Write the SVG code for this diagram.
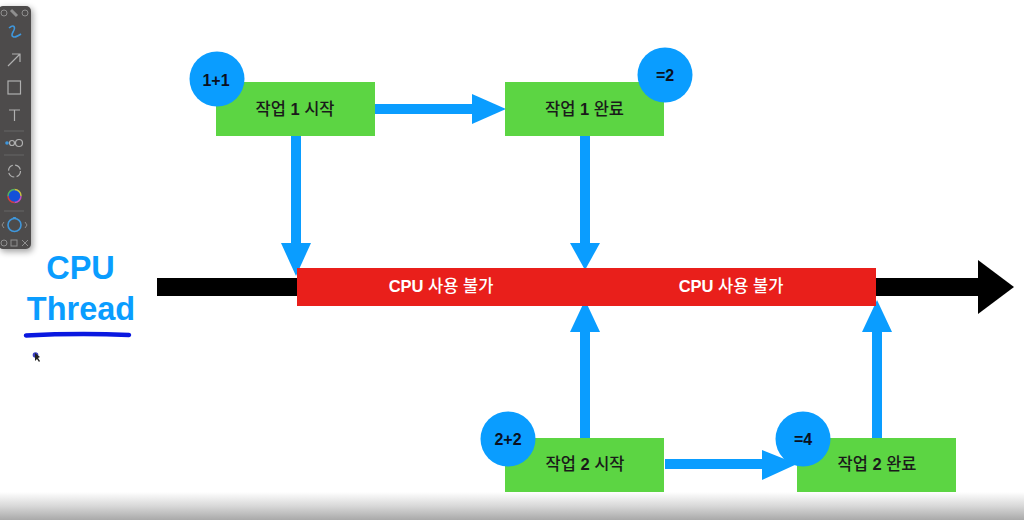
<svg xmlns="http://www.w3.org/2000/svg" width="1024" height="520" viewBox="0 0 1024 520">
<style>
.task{fill:#5cd543}
.bub{fill:#0a9dff}
.lbl{font:500 16.500px "Liberation Sans","Noto Sans CJK KR",sans-serif;fill:#1a1a1a;text-anchor:middle}
.num{font:700 16px "Liberation Sans",sans-serif;fill:#0a1020;text-anchor:middle}
.red{font:500 16.500px "Liberation Sans","Noto Sans CJK KR",sans-serif;fill:#fff;text-anchor:middle}
.b{font-weight:700}
.big{font:700 32.500px "Liberation Sans",sans-serif;fill:#0a9dff;text-anchor:middle}
.ar{fill:#0a9dff}
.tool{fill:none;stroke:#b0b0b0;stroke-width:1.200}
.tool2{fill:none;stroke:#8f8f8f;stroke-width:1}
</style>
<defs>
<linearGradient id="fade" x1="0" y1="0" x2="0" y2="1"><stop offset="0" stop-color="#fff"/><stop offset="0.5" stop-color="#d8d8d8"/><stop offset="1" stop-color="#a9a9a9"/></linearGradient>
<filter id="sh" x="-40%" y="-10%" width="180%" height="120%"><feGaussianBlur stdDeviation="3"/></filter>
</defs>
<rect width="1024" height="520" fill="#fff"/>
<rect y="492" width="1024" height="28" fill="url(#fade)"/>

<g id="toolbar">
<rect x="0" y="8" width="33" height="244" rx="5" fill="#000" opacity=".35" filter="url(#sh)"/>
<rect x="-2" y="6" width="33" height="243" rx="5" fill="#4d4b4b"/>
<circle cx="4" cy="13" r="3" class="tool2"/><path d="M11 10l6 6" stroke="#8f8f8f" stroke-width="3"/><circle cx="25" cy="13" r="3" class="tool2"/>
<path d="M9 28c5-4 7-1 4 4s1 7 8 2" fill="none" stroke="#3f97dc" stroke-width="1.600"/>
<path d="M8 66L20 54M12 54h8v8" class="tool"/>
<rect x="8" y="81" width="12.500" height="13" class="tool"/>
<path d="M9 110h11M14.500 110v11" class="tool"/>
<path d="M4 131h20M4 155h20M4 211h20" stroke="#666" stroke-width="1"/>
<circle cx="7" cy="143" r="1.800" fill="#3f97dc"/><circle cx="12" cy="143" r="2.500" class="tool"/><circle cx="19" cy="143" r="3.500" class="tool"/>
<circle cx="14.500" cy="171" r="6" class="tool" stroke-dasharray="7 2.400"/>
<circle cx="14.500" cy="196" r="6.500" fill="#1450d8"/>
<path d="M14.500 189.500a6.500 6.500 0 0 1 6.500 6.500" fill="none" stroke="#c8c040" stroke-width="1.500"/>
<path d="M21 196a6.500 6.500 0 0 1-6.500 6.500" fill="none" stroke="#c04fc0" stroke-width="1.500"/>
<path d="M14.500 202.500a6.500 6.500 0 0 1-6.500-6.500" fill="none" stroke="#d04040" stroke-width="1.500"/>
<path d="M8 196a6.500 6.500 0 0 1 6.500-6.500" fill="none" stroke="#50b060" stroke-width="1.500"/>
<circle cx="14.500" cy="225" r="6.500" fill="none" stroke="#3f97dc" stroke-width="1.600"/>
<path d="M12.500 217h4l-2 2z" fill="#3f97dc"/>
<path d="M4 222l-2 3 2 3M25 222l2 3-2 3" class="tool2"/>
<circle cx="4" cy="243" r="3" class="tool2"/><rect x="11" y="240" width="6" height="6" class="tool2"/><path d="M22 240l6 6M28 240l-6 6" class="tool2"/>
</g>

<g id="connectors">
<rect x="157" y="278" width="140" height="18" fill="#000"/>
<rect x="875" y="278" width="110" height="18" fill="#000"/>
<polygon points="978,260 1014,287 978,314" fill="#000"/>
<rect x="375" y="104" width="98" height="10" class="ar"/><polygon points="472,94 506,109 472,124" class="ar"/>
<rect x="665" y="459" width="98" height="10" class="ar"/><polygon points="762,450 797,464 762,480" class="ar"/>
<rect x="291" y="136" width="10" height="108" class="ar"/><polygon points="281,243 311,243 296,276" class="ar"/>
<rect x="580" y="136" width="10" height="108" class="ar"/><polygon points="570,243 600,243 585,270" class="ar"/>
<rect x="580" y="331" width="10" height="107" class="ar"/><polygon points="570,332 600,332 585,300" class="ar"/>
<rect x="872" y="331" width="10" height="107" class="ar"/><polygon points="862,332 892,332 877,300" class="ar"/>
</g>

<g id="cpu-bar">
<rect x="297" y="268" width="579" height="38" fill="#e91f1b"/>
<text x="441" y="292" class="red"><tspan class="b">CPU</tspan> 사용 불가</text>
<text x="731" y="292" class="red"><tspan class="b">CPU</tspan> 사용 불가</text>
</g>

<g id="title">
<text x="80.500" y="279" class="big">CPU</text>
<text x="81" y="320" class="big">Thread</text>
<path d="M26 335.500Q78 333 129 335" fill="none" stroke="#0a18e0" stroke-width="4.500" stroke-linecap="round"/>
<circle cx="35.500" cy="355" r="2.800" fill="#3a3fc0"/>
<path d="M35 353l0 8 2-2 2 3 1-1-2-3 2-1z" fill="#222"/>
</g>

<g id="task1-start">
<rect x="216" y="82" width="159" height="54" class="task"/>
<text x="295" y="115" class="lbl">작업 <tspan class="b">1</tspan> 시작</text>
<circle cx="217" cy="79" r="27.500" class="bub"/>
<text x="216" y="86" class="num">1+1</text>
</g>
<g id="task1-end">
<rect x="505" y="82" width="159" height="54" class="task"/>
<text x="584.500" y="115" class="lbl">작업 <tspan class="b">1</tspan> 완료</text>
<circle cx="665" cy="75" r="27.500" class="bub"/>
<text x="665" y="81" class="num">=2</text>
</g>
<g id="task2-start">
<rect x="505" y="438" width="159" height="54" class="task"/>
<text x="585" y="470" class="lbl">작업 <tspan class="b">2</tspan> 시작</text>
<circle cx="508" cy="439" r="27.500" class="bub"/>
<text x="508" y="445" class="num">2+2</text>
</g>
<g id="task2-end">
<rect x="797" y="438" width="159" height="54" class="task"/>
<text x="877" y="470" class="lbl">작업 <tspan class="b">2</tspan> 완료</text>
<circle cx="803" cy="439" r="27.500" class="bub"/>
<text x="803" y="445" class="num">=4</text>
</g>
</svg>
